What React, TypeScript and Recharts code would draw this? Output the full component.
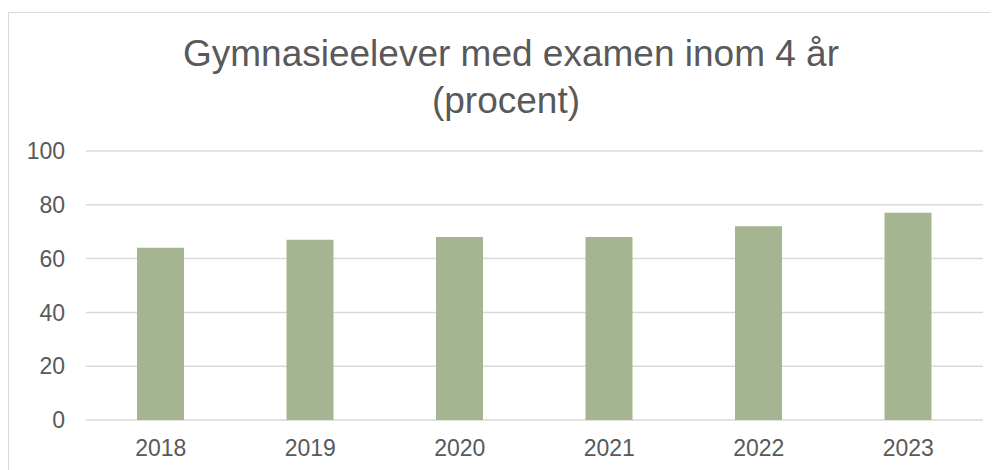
import React from "react";
import { BarChart, Bar, XAxis, YAxis, CartesianGrid } from "recharts";

const years = ["2018", "2019", "2020", "2021", "2022", "2023"];
const percent = [64, 67, 68, 68, 72, 77];
const yTicks = [0, 20, 40, 60, 80, 100];
const titleLines = ["Gymnasieelever med examen inom 4 år", "(procent)"];

const data = years.map((y, i) => ({ year: y, value: percent[i] }));

const FONT = "'Liberation Sans', Arial, sans-serif";
const TEXT = "#595959";

export default function App() {
  return (
    <div style={{ position: "relative", width: 990, height: 462, overflow: "hidden", fontFamily: FONT }}>
      <div
        style={{
          position: "absolute",
          left: 0,
          top: 4,
          width: 1010,
          height: 500,
          border: "1px solid #D9D9D9",
          boxSizing: "border-box",
        }}
      />
      <svg style={{ position: "absolute", left: 0, top: 0 }} width={990} height={140}>
        <text x={503} y={58} textAnchor="middle" fontSize={37} fill={TEXT} fontFamily={FONT}>
          {titleLines[0]}
        </text>
        <text x={498} y={105} textAnchor="middle" fontSize={37} fill={TEXT} fontFamily={FONT}>
          {titleLines[1]}
        </text>
      </svg>
      <div style={{ position: "absolute", left: 0, top: 0 }}>
        <BarChart
          width={990}
          height={462}
          data={data}
          margin={{ top: 143, right: 15, left: 0, bottom: 0 }}
          barSize={47}
        >
          <CartesianGrid vertical={false} stroke="#D9D9D9" strokeWidth={1.5} />
          <XAxis
            dataKey="year"
            axisLine={false}
            tickLine={false}
            tickSize={0}
            tickMargin={20}
            height={50}
            tick={{ fill: TEXT, fontSize: 23, fontFamily: FONT }}
          />
          <YAxis
            domain={[0, 100]}
            ticks={yTicks}
            axisLine={false}
            tickLine={false}
            tickSize={0}
            tickMargin={21}
            width={78}
            tick={{ fill: TEXT, fontSize: 23, fontFamily: FONT }}
          />
          <Bar dataKey="value" fill="#A5B592" isAnimationActive={false} />
        </BarChart>
      </div>
    </div>
  );
}
